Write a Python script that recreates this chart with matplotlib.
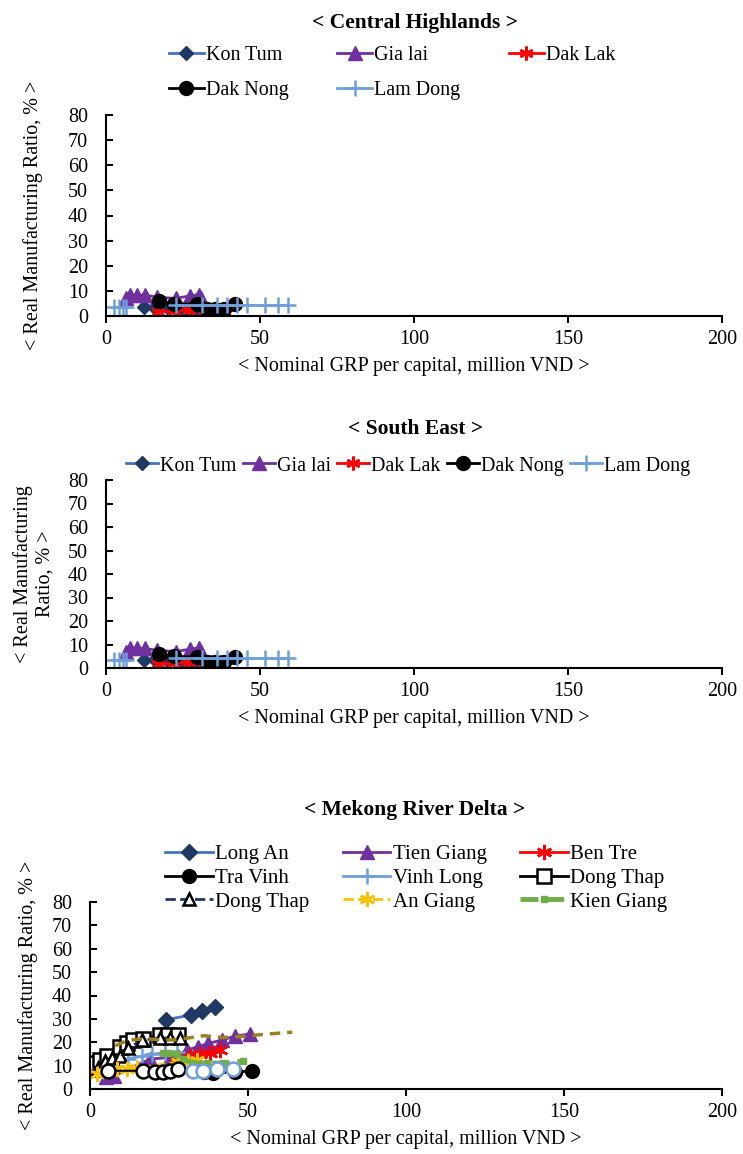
import numpy as np
import matplotlib.pyplot as plt

nan = np.nan

# Central Highlands / South East (same values in both panels)
kon_tum_x = [12.4, 16, 20, 23.7, 26.3, 28.5, 31, 34, 37]
kon_tum_y = [3.5, 3.3, 3.0, 2.0, 2.0, 2.0, 2.5, 2.5, 2.5]
gia_lai_x = [6.5, 7.8, 10.2, 12.7, 16.7, 22.6, 27.2, 30.1, 31]
gia_lai_y = [7.0, 8.3, 8.3, 8.3, 7.5, 7.0, 8.0, 8.5, 7.0]
dak_lak_x = [17, 22, 27, 32, 36, 39]
dak_lak_y = [1.5, 2.0, 2.5, 2.5, 2.0, 1.0]
dak_nong_x = [17.2, 22, 29.6, 32.8, 35.5, 38.2, 41.9]
dak_nong_y = [6.0, 4.9, 4.7, 2.7, 2.7, 2.7, 4.7]
lam_dong_x = [2.7, 4.3, 5.4, 6.5, nan, 22.6, 31.2, 36, 39.2, 42.5, 45.7, 51.6, 55.9, 59.1]
lam_dong_y = [3.6, 3.6, 3.6, 3.6, nan, 4.4, 4.4, 4.4, 4.4, 4.4, 4.4, 4.4, 4.4, 4.4]

# Mekong River Delta
long_an_x = [24, 32, 35.4, 39.6]
long_an_y = [29.6, 31.7, 33.3, 35.0]
tien_giang_x = [5, 7.5, 19, 25.3, 28, 30.6, 34.3, 37.4, 41.7, 45.9, 50.6]
tien_giang_y = [5.0, 5.5, 12.8, 13.5, 14.0, 16.7, 18.1, 19.5, 20.9, 22.6, 23.6]
ben_tre_x = [27.5, 28.5, 31.6, 34.8, 38, 41]
ben_tre_y = [11.5, 12.8, 14.0, 14.8, 15.3, 16.8]
tra_vinh_x = [36, 39, 46, 51.3]
tra_vinh_y = [7.2, 7.0, 7.2, 7.8]
vinh_long_x = [9, 12, 16.5, 19.6, 23.7, 27.5]
vinh_long_y = [12.0, 13.0, 14.0, 14.8, 15.6, 16.0]
dong_thap_x = [0.8, 1.6, 3.2, 5.3, 9.5, 11.6, 13.7, 16.9, 22.2, 24.8, 27.9]
dong_thap_y = [8.5, 11.0, 12.5, 14.0, 18.0, 19.5, 21.0, 21.5, 23.0, 23.0, 23.0]
dong_thap2_x = [2.5, 4.7, 6.9, 9.5, 12.1, 16.4, 22.2, 25.3, 28.5]
dong_thap2_y = [9.0, 11.9, 13.3, 14.0, 17.4, 20.9, 21.8, 21.8, 21.8]
an_giang_x = [2.2, 5.4, 8.5, 11.7, 14.9, 28, 31, 34]
an_giang_y = [6.6, 7.8, 8.6, 8.6, 9.0, 11.5, 12.0, 12.5]
kien_giang_x = [23, 25, 27.5, 29.4, 32.6, 37, 42, 48.4]
kien_giang_y = [15.2, 15.5, 14.8, 12.8, 11.1, 11.1, 11.1, 11.9]
olive_x = [8, 10.5, 13, 17.5, 23, 27, 36, 42, 48, 56, 64]
olive_y = [18.5, 20.0, 21.0, 21.5, 21.0, 21.0, 22.8, 22.0, 22.5, 23.5, 24.3]
open_black_x = [5.8, 16.9, 20.6, 23.2, 25.3, 27.9]
open_black_y = [7.8, 7.8, 7.1, 7.1, 7.8, 8.5]
open_blue_x = [32.6, 35.8, 40.2, 45.3]
open_blue_y = [7.8, 7.8, 8.6, 8.6]

x_ticks = [0, 50, 100, 150, 200]
y_ticks = [0, 10, 20, 30, 40, 50, 60, 70, 80]
x_label = '< Nominal GRP per capital, million VND >'
y_label = '< Real Manufacturing Ratio, % >'

W, H = 743, 1154
plt.rcParams['font.family'] = ['Liberation Serif', 'DejaVu Serif']
plt.rcParams['font.size'] = 14.5

NAVY = '#1F3864'
BLUE = '#4472C4'
PURPLE = '#7030A0'
RED = '#FF0000'
LIGHT = '#6F9FDB'
STAR = (6, 2, 0)


def box(left, top, right, bottom):
    return [left / W, 1 - bottom / H, (right - left) / W, (bottom - top) / H]


def style_axes(ax, ylab_x):
    ax.set_xlim(0, 200)
    ax.set_ylim(0, 80)
    ax.set_xticks(x_ticks)
    ax.set_yticks(y_ticks)
    for s in ['top', 'right']:
        ax.spines[s].set_visible(False)
    for s in ['left', 'bottom']:
        ax.spines[s].set_linewidth(1.5)
    ax.tick_params(axis='y', direction='in', length=5, width=1.5, pad=13)
    ax.tick_params(axis='x', direction='out', length=5, width=1.5, pad=5)
    ax.set_xlabel(x_label, labelpad=6)
    ax.yaxis.set_label_coords(ylab_x, 0.5)
    ax.patch.set_alpha(0)


def highlands(ax):
    h = []
    h += ax.plot(kon_tum_x, kon_tum_y, '-D', color=BLUE, mfc=NAVY, mec=NAVY, ms=7.5, lw=2, label='Kon Tum')
    h += ax.plot(gia_lai_x, gia_lai_y, '-^', color=PURPLE, mfc=PURPLE, mec=PURPLE, ms=9.5, lw=2, label='Gia lai')
    h += ax.plot(dak_lak_x, dak_lak_y, '-', marker=STAR, color=RED, mec=RED, ms=10, mew=1.8, lw=2, label='Dak Lak')
    h += ax.plot(dak_nong_x, dak_nong_y, '-o', color='black', mfc='black', mec='black', ms=10, lw=2, label='Dak Nong')
    h += ax.plot(lam_dong_x, lam_dong_y, '-+', color=LIGHT, mec=LIGHT, ms=11, mew=1.8, lw=2, label='Lam Dong')
    return h


fig = plt.figure(figsize=(W / 100, H / 100), dpi=100)

# panel 1
ax1 = fig.add_axes(box(106, 115, 722, 316))
h = highlands(ax1)
ax1.set_ylabel(y_label)
style_axes(ax1, (43 - 106) / 616)
fig.text(415 / W, 1 - 23 / H, '< Central Highlands >', ha='center', va='center', fontweight='bold', fontsize=15.5)
order = [0, 3, 1, 4, 2]
fig.legend([h[i] for i in order], [h[i].get_label() for i in order], ncol=3, frameon=False,
           loc='center', bbox_to_anchor=(392 / W, 1 - 73 / H), handlelength=1.75, handletextpad=0.1,
           columnspacing=2.4, labelspacing=0.75)

# panel 2
ax2 = fig.add_axes(box(106, 480, 722, 668))
h = highlands(ax2)
ax2.set_ylabel('< Real Manufacturing\nRatio, % >')
style_axes(ax2, (55 - 106) / 616)
fig.text(415 / W, 1 - 429 / H, '< South East >', ha='center', va='center', fontweight='bold', fontsize=15.5)
fig.legend(h, [x.get_label() for x in h], ncol=5, frameon=False,
           loc='center', bbox_to_anchor=(408 / W, 1 - 466 / H), handlelength=1.6, handletextpad=0.1,
           columnspacing=0.3)

# panel 3
ax3 = fig.add_axes(box(90, 902, 722, 1089))
h = []
h += ax3.plot(long_an_x, long_an_y, '-D', color=BLUE, mfc=NAVY, mec=NAVY, ms=8, lw=2, label='Long An')
h += ax3.plot(tien_giang_x, tien_giang_y, '-^', color=PURPLE, mfc=PURPLE, mec=PURPLE, ms=10, lw=2, label='Tien Giang')
h += ax3.plot(ben_tre_x, ben_tre_y, '-', marker=STAR, color=RED, mec=RED, ms=11, mew=1.8, lw=2, label='Ben Tre')
h += ax3.plot(tra_vinh_x, tra_vinh_y, '-o', color='black', mfc='black', mec='black', ms=10, lw=2, label='Tra Vinh')
h += ax3.plot(vinh_long_x, vinh_long_y, '-+', color=LIGHT, mec=LIGHT, ms=12, mew=1.8, lw=2, label='Vinh Long')
h += ax3.plot(dong_thap_x, dong_thap_y, '-s', color='black', mfc='white', mec='black', ms=10, mew=1.8, lw=2, label='Dong Thap')
h += ax3.plot(dong_thap2_x, dong_thap2_y, '--^', color=NAVY, mfc='white', mec='black', ms=9, mew=1.8, lw=2, label='Dong Thap')
h += ax3.plot(an_giang_x, an_giang_y, '--', marker=STAR, color='#FFC000', mec='#FFC000', ms=11, mew=1.8, lw=2, label='An Giang')
h += ax3.plot(kien_giang_x, kien_giang_y, '--s', color='#70AD47', mfc='#70AD47', mec='#70AD47', ms=4, lw=3.5, label='Kien Giang')
ax3.plot(olive_x, olive_y, '--', color='#9C7F1E', lw=2.5, dashes=(3, 2))
ax3.plot(open_black_x, open_black_y, '-o', color='black', mfc='white', mec='black', ms=10, mew=1.8, lw=1.5)
ax3.plot(open_blue_x, open_blue_y, '-o', color=LIGHT, mfc='white', mec=LIGHT, ms=10, mew=1.8, lw=1.5)
ax3.set_ylabel(y_label)
style_axes(ax3, (38 - 90) / 632)
fig.text(415 / W, 1 - 810 / H, '< Mekong River Delta >', ha='center', va='center', fontweight='bold', fontsize=15.5)
order = [0, 3, 6, 1, 4, 7, 2, 5, 8]
fig.legend([h[i] for i in order], [h[i].get_label() for i in order], ncol=3, frameon=False,
           loc='center', bbox_to_anchor=(416 / W, 1 - 878 / H), handlelength=2.3, handletextpad=0.1,
           columnspacing=1.6, labelspacing=0.2, fontsize=15)

fig.savefig('out.png', dpi=100)
